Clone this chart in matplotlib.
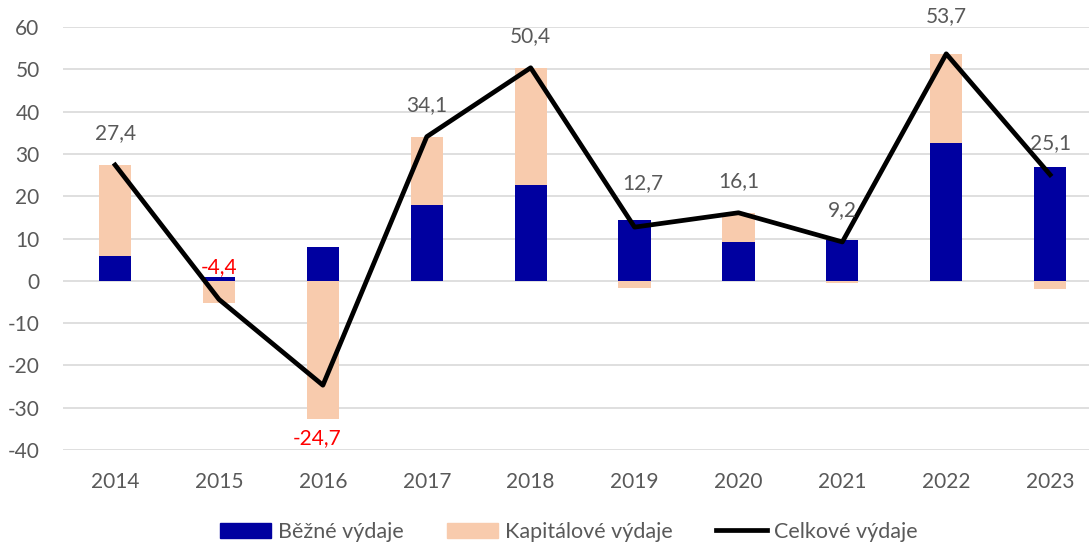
import matplotlib

matplotlib.use('Agg')
import matplotlib.pyplot as plt
import numpy as np
from matplotlib.lines import Line2D
from matplotlib.patches import Patch

years = ['2014', '2015', '2016', '2017', '2018', '2019', '2020', '2021', '2022', '2023']
bezne = [5.9, 0.8, 8.0, 18.0, 22.7, 14.5, 9.3, 9.7, 32.6, 27.0]
kapitalove = [21.5, -5.2, -32.7, 16.1, 27.7, -1.8, 6.8, -0.5, 21.1, -1.9]
celkove = [27.4, -4.4, -24.7, 34.1, 50.4, 12.7, 16.1, 9.2, 53.7, 25.1]

BLUE = '#0000A0'
PEACH = '#F8CBAD'
TEXT = '#595959'

plt.rcParams['font.family'] = ['Lato', 'DejaVu Sans']
plt.rcParams['font.size'] = 15
plt.rcParams['axes.unicode_minus'] = False

fig = plt.figure(figsize=(10.89, 5.44), dpi=100)
ax = fig.add_axes([0.058, 0.173, 0.954, 0.777])

x = np.arange(len(years))
b = np.array(bezne)
k = np.array(kapitalove)
width = 0.31

ax.bar(x, b, width, color=BLUE, zorder=2)
# capital spending stacks on top of current spending when positive, below zero when negative
k_bottom = np.where(k >= 0, np.maximum(b, 0), np.minimum(b, 0))
ax.bar(x, k, width, bottom=k_bottom, color=PEACH, zorder=2)
ax.plot(x, celkove, color='black', linewidth=3.4, zorder=3)

# label offsets in points (dx, dy); default sits just above the line
label_offsets = {5: (6, 32), 8: (0, 27), 2: (-4, -38)}
for i, v in enumerate(celkove):
    label = f'{v:.1f}'.replace('.', ',')
    dx, dy = label_offsets.get(i, (0, 23))
    ax.annotate(label, (x[i], v), xytext=(dx, dy), textcoords='offset points',
                ha='center', va='center', fontsize=15,
                color='red' if v < 0 else TEXT, zorder=4)

ax.set_xlim(-0.5, len(years) - 0.5)
ax.set_ylim(-40, 60)
ax.set_yticks(np.arange(-40, 61, 10))
ax.set_xticks(x)
ax.set_xticklabels(years)
ax.tick_params(axis='both', length=0, colors=TEXT, labelsize=15)
ax.tick_params(axis='x', pad=16)
ax.tick_params(axis='y', pad=17)
ax.yaxis.grid(True, color='#D9D9D9', linewidth=1.2, zorder=0)
ax.set_axisbelow(True)
for s in ax.spines.values():
    s.set_visible(False)

handles = [
    Patch(color=BLUE, label='Běžné výdaje'),
    Patch(color=PEACH, label='Kapitálové výdaje'),
    Line2D([0], [0], color='black', linewidth=3.4, label='Celkové výdaje'),
]
fig.legend(handles=handles, loc='center', bbox_to_anchor=(0.522, 0.022), ncol=3,
           frameon=False, fontsize=15.5, labelcolor=TEXT, handlelength=2.4,
           handleheight=0.7, handletextpad=0.3, columnspacing=2.0,
           borderpad=0.1)

fig.savefig('out.png', dpi=100)
